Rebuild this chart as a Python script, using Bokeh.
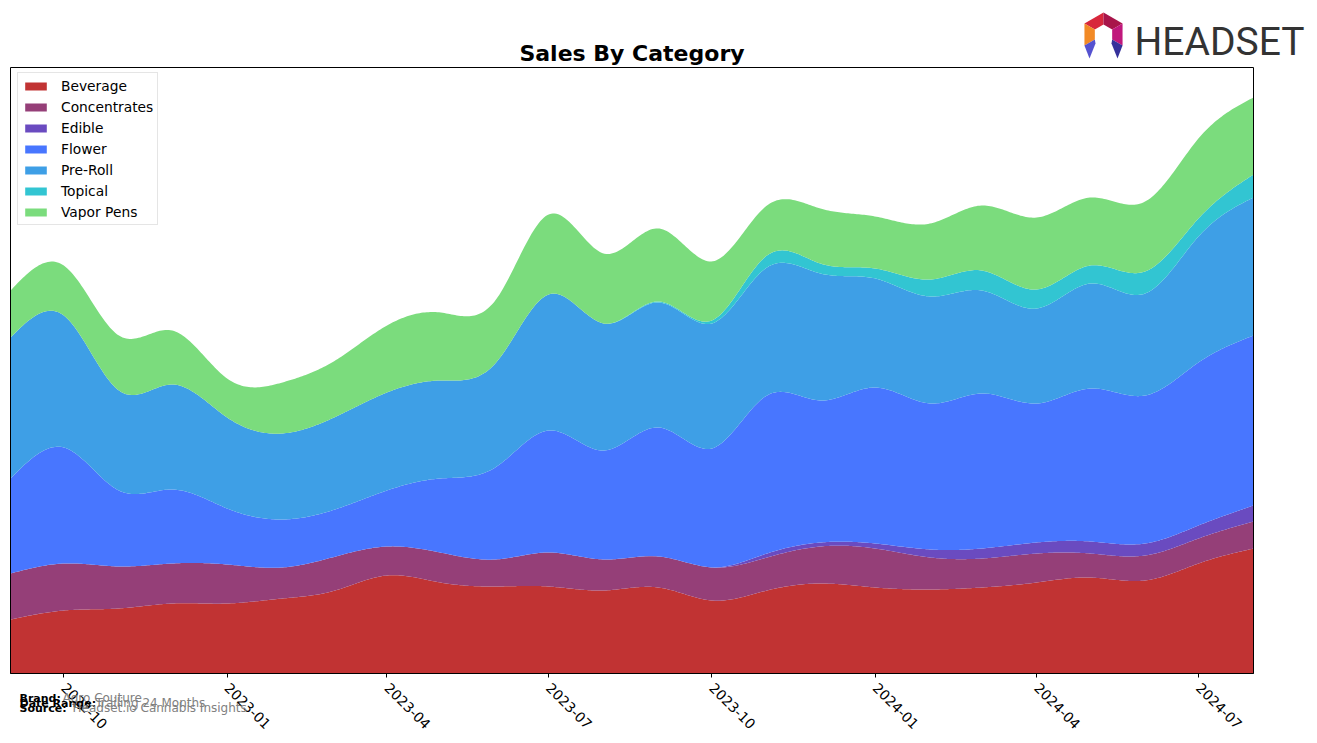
import numpy as np
from bokeh.plotting import figure
from bokeh.models import (ColumnDataSource, FixedTicker, DatetimeTickFormatter, Legend,
                          LegendItem, Label, PolyAnnotation, BoxAnnotation, Range1d, LinearAxis)
from bokeh.embed import file_html
from bokeh.resources import INLINE

# ---------------- data (monthly sales, arbitrary units) ----------------
months = ["2022-09", "2022-10", "2022-11", "2022-12", "2023-01", "2023-02", "2023-03",
          "2023-04", "2023-05", "2023-06", "2023-07", "2023-08", "2023-09", "2023-10",
          "2023-11", "2023-12", "2024-01", "2024-02", "2024-03", "2024-04", "2024-05",
          "2024-06", "2024-07", "2024-08"]
categories = ["Beverage", "Concentrates", "Edible", "Flower", "Pre-Roll", "Topical", "Vapor Pens"]
beverage = [54, 63, 65, 70, 70, 75, 82, 98, 91, 87, 87, 83, 86, 73, 83, 90, 86, 84, 86, 91, 96, 93, 110, 125]
concentrates = [46, 47, 42, 40, 39, 31, 34, 29, 30, 27, 34, 31, 31, 33, 33, 37, 39, 32, 29, 29, 24, 25, 25, 27]
edible = [0, 0, 0, 0, 0, 0, 0, 0, 0, 0, 0, 0, 0, 0, 4, 4, 5, 8, 10, 11, 12, 12, 13, 16]
flower = [95, 116, 76, 74, 56, 48, 47, 56, 74, 92, 122, 109, 129, 119, 158, 142, 156, 146, 155, 139, 153, 148, 163, 170]
preroll = [141, 132, 100, 105, 91, 86, 92, 98, 98, 104, 136, 127, 125, 125, 128, 127, 109, 107, 103, 95, 105, 102, 126, 138]
topical = [0, 0, 0, 0, 0, 0, 0, 0, 0, 0, 0, 0, 1, 3, 12, 10, 10, 17, 20, 19, 18, 22, 18, 23]
vapor = [47, 50, 55, 54, 39, 51, 56, 67, 68, 63, 80, 70, 73, 59, 50, 55, 52, 56, 65, 72, 68, 70, 80, 77]
tick_months = ["2022-10", "2023-01", "2023-04", "2023-07", "2023-10", "2024-01", "2024-04", "2024-07"]
y_max = 606

series = [beverage, concentrates, edible, flower, preroll, topical, vapor]
colors = ["#c13333", "#953f78", "#6a4bc0", "#4876ff", "#3e9fe6", "#32c5d2", "#7bdc7d"]

# ---------------- layout constants (canvas pixels) ----------------
W, H = 1317, 743
PL, PR, PT, PB = 10, 1253, 67, 673   # chart box in canvas pixels


def to_ms(m):
    return float(np.datetime64(m + "-01").astype("datetime64[ms]").astype(np.int64))


x_ms = np.array([to_ms(m) for m in months])


# ---------------- rendering: smooth curves through the monthly points ----------------
def natural_spline(x, y, xq):
    x = np.asarray(x, float)
    y = np.asarray(y, float)
    n = len(x)
    h = np.diff(x)
    A = np.zeros((n, n))
    b = np.zeros(n)
    A[0, 0] = 1.0
    A[-1, -1] = 1.0
    for i in range(1, n - 1):
        A[i, i - 1] = h[i - 1]
        A[i, i] = 2 * (h[i - 1] + h[i])
        A[i, i + 1] = h[i]
        b[i] = 3 * ((y[i + 1] - y[i]) / h[i] - (y[i] - y[i - 1]) / h[i - 1])
    c = np.linalg.solve(A, b)
    bc = (y[1:] - y[:-1]) / h - h * (2 * c[:-1] + c[1:]) / 3
    d = (c[1:] - c[:-1]) / (3 * h)
    idx = np.clip(np.searchsorted(x, xq, side="right") - 1, 0, n - 2)
    dx = xq - x[idx]
    return y[idx] + bc[idx] * dx + c[idx] * dx ** 2 + d[idx] * dx ** 3


days = (x_ms - x_ms[0]) / 86400000.0
dq = np.linspace(days[0], days[-1], 700)
xq = x_ms[0] + dq * 86400000.0

data = {"x": xq}
base = np.zeros_like(dq)
for k, s in enumerate(series):
    sm = np.clip(natural_spline(days, s, dq), 0, None)
    data["b%d" % k] = base.copy()
    base = base + sm
    data["t%d" % k] = base.copy()
src = ColumnDataSource(data)

# ---------------- figure: frame spans the whole canvas ----------------
ms_per_px = (x_ms[-1] - x_ms[0]) / (PR - PL)
u_per_px = y_max / (PB - PT)
x_range = Range1d(x_ms[0] - PL * ms_per_px, x_ms[-1] + (W - PR) * ms_per_px)
y_range = Range1d(-(H - PB) * u_per_px, y_max + PT * u_per_px)

p = figure(width=W, height=H, x_axis_type=None, y_axis_type=None, output_backend="svg",
           toolbar_location=None, x_range=x_range, y_range=y_range, min_border=0)
p.title.visible = False
p.background_fill_color = "white"
p.border_fill_color = "white"
p.outline_line_color = None
p.grid.visible = False

items = []
for k, name in enumerate(categories):
    r = p.varea(x="x", y1="b%d" % k, y2="t%d" % k, source=src, fill_color=colors[k], fill_alpha=1.0)
    items.append(LegendItem(label=name, renderers=[r]))

# chart box
p.add_layout(BoxAnnotation(left=x_ms[0], right=x_ms[-1], bottom=0, top=y_max,
                           fill_alpha=0, line_color="black", line_alpha=1.0, line_width=1,
                           level="overlay"))

# x axis pinned at y = 0
xaxis = LinearAxis(fixed_location=0, bounds=(x_ms[0], x_ms[-1]))
xaxis.ticker = FixedTicker(ticks=[to_ms(m) for m in tick_months])
xaxis.formatter = DatetimeTickFormatter(days="%Y-%m", months="%Y-%m", years="%Y-%m",
                                        hours="%Y-%m", minutes="%Y-%m", seconds="%Y-%m",
                                        milliseconds="%Y-%m", microseconds="%Y-%m")
xaxis.major_label_orientation = -np.pi / 4
xaxis.major_label_text_font = "DejaVu Sans"
xaxis.major_label_text_font_size = "13.9px"
xaxis.major_label_text_color = "black"
xaxis.axis_line_color = "black"
xaxis.major_tick_line_color = "black"
xaxis.major_tick_out = 4
xaxis.major_tick_in = 0
xaxis.minor_tick_line_color = None
xaxis.major_label_standoff = 8
p.add_layout(xaxis, "below")

legend = Legend(items=items, location=(17, H - 225), padding=4, spacing=4,
                glyph_width=27, glyph_height=10, label_height=17, label_standoff=12,
                label_text_font_size="13.8px", label_text_font="DejaVu Sans",
                label_text_color="black", border_line_color="#cccccc", border_line_width=1,
                background_fill_color="white", background_fill_alpha=1.0)
p.add_layout(legend)

# title
p.add_layout(Label(x=(x_ms[0] + x_ms[-1]) / 2, y=H - 53, y_units="screen",
                   text="Sales By Category", text_font="DejaVu Sans", text_font_size="22px",
                   text_font_style="bold", text_color="black", text_align="center",
                   text_baseline="middle"))

# footer texts
foot = [("Brand:", "Agro Couture", 62, 697.5),
        ("Date Range:", "Trailing 24 Months", 95, 702.5),
        ("Source:", "Headset.io Cannabis Insights", 72, 707.5)]
for lab, val, vx, yy in foot:
    p.add_layout(Label(x=19, y=H - yy, x_units="screen", y_units="screen", text=lab,
                       text_font="DejaVu Sans", text_font_size="11px", text_font_style="bold",
                       text_color="black", text_baseline="middle"))
    p.add_layout(Label(x=vx, y=H - yy, x_units="screen", y_units="screen", text=val,
                       text_font="DejaVu Sans", text_font_size="12px",
                       text_color="#808080", text_baseline="middle"))

# HEADSET logo
p.add_layout(Label(x=1134, y=H - 41, x_units="screen", y_units="screen", text="HEADSET",
                   text_font="Roboto", text_font_size="39px",
                   text_color="#333333", text_baseline="alphabetic"))


def poly(pts, color):
    xs = [px for px, py in pts]
    ys = [H - py for px, py in pts]
    p.add_layout(PolyAnnotation(xs=xs, ys=ys, xs_units="screen", ys_units="screen",
                                fill_color=color, fill_alpha=1.0, line_color=None,
                                line_alpha=0))


cx, cy = 1103, 34
R, rr = 22, 10
ang = np.deg2rad([90, 30, -30, -90, -150, 150])
O = [(cx + R * np.cos(a), cy - R * np.sin(a)) for a in ang]
I = [(cx + rr * np.cos(a), cy - rr * np.sin(a)) for a in ang]
poly([O[0], O[5], I[5], I[0]], "#d8283c")
poly([O[0], O[1], I[1], I[0]], "#a8154a")
poly([O[1], O[2], I[2], I[1]], "#c0187c")
poly([O[5], O[4], I[4], I[5]], "#f28a26")
poly([O[4], I[4], (cx - 8, cy + 9), (cx - 14, cy + 24)], "#5552d0")
poly([I[2], O[2], (cx + 14, cy + 24), (cx + 8, cy + 9)], "#35309a")

open("out.html", "w").write(file_html(p, INLINE))
